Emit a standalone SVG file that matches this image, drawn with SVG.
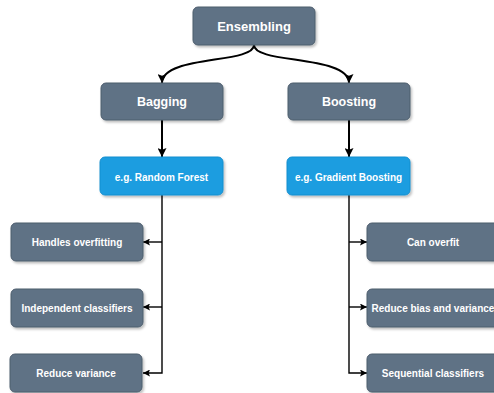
<svg xmlns="http://www.w3.org/2000/svg" width="494" height="393" viewBox="0 0 494 393">
<defs>
<marker id="arr" viewBox="0 0 10 10" refX="10" refY="5" markerWidth="7" markerHeight="7" markerUnits="userSpaceOnUse" orient="auto">
<path d="M0,0 L10,5 L0,10 L2,5 z" fill="#000"/>
</marker>
<marker id="arr2" viewBox="0 0 10 10" refX="10" refY="5" markerWidth="9" markerHeight="9" markerUnits="userSpaceOnUse" orient="auto">
<path d="M0,0 L10,5 L0,10 L2,5 z" fill="#000"/>
</marker>
<filter id="sh" x="-10%" y="-10%" width="130%" height="140%">
<feDropShadow dx="1.5" dy="2" stdDeviation="1.2" flood-color="#000" flood-opacity="0.25"/>
</filter>
<style>
.g{fill:#5f7285;stroke:#4d5d6d;stroke-width:1;filter:url(#sh)}
.b{fill:#1d9de0;stroke:#168fcf;stroke-width:1;filter:url(#sh)}
text{font-family:"Liberation Sans",Arial,sans-serif;font-weight:bold;fill:#fff;text-anchor:middle;dominant-baseline:central}
.t1{font-size:13px}
.t2{font-size:12.5px}
.t3{font-size:10px}
.c{fill:none;stroke:#000;stroke-width:1.4}
.c2{fill:none;stroke:#000;stroke-width:2}
</style>
</defs>
<rect width="494" height="393" fill="#fff"/>
<g id="connectors">
<path class="c2" d="M254,45 C254,64 162,55 162,83" marker-end="url(#arr2)"/>
<path class="c2" d="M254,45 C254,64 349,55 349,83" marker-end="url(#arr2)"/>
<path class="c2" d="M162,120 L162,157" marker-end="url(#arr2)"/>
<path class="c2" d="M349,120 L349,157" marker-end="url(#arr2)"/>
<path class="c" d="M162,195 L162,373 L143,373" marker-end="url(#arr)"/>
<path class="c" d="M162,242 L143,242" marker-end="url(#arr)"/>
<path class="c" d="M162,307 L143,307" marker-end="url(#arr)"/>
<path class="c" d="M349,195 L349,373 L367,373" marker-end="url(#arr)"/>
<path class="c" d="M349,242 L367,242" marker-end="url(#arr)"/>
<path class="c" d="M349,307 L367,307" marker-end="url(#arr)"/>
</g>
<g id="ensembling"><rect class="g" x="193" y="7" width="122" height="38" rx="5"/><text class="t1" x="254" y="26">Ensembling</text></g>
<g id="bagging"><rect class="g" x="101" y="83" width="122" height="37" rx="5"/><text class="t2" x="162" y="101.5">Bagging</text></g>
<g id="boosting"><rect class="g" x="288" y="83" width="122" height="37" rx="5"/><text class="t2" x="349" y="101.5">Boosting</text></g>
<g id="random-forest"><rect class="b" x="100" y="157" width="123" height="38" rx="5"/><text class="t3" x="161.5" y="177">e.g. Random Forest</text></g>
<g id="gradient-boosting"><rect class="b" x="287" y="157" width="123" height="38" rx="5"/><text class="t3" x="348.5" y="177">e.g. Gradient Boosting</text></g>
<g id="handles-overfitting"><rect class="g" x="11" y="223" width="132" height="38" rx="5"/><text class="t3" x="77" y="242">Handles overfitting</text></g>
<g id="independent-classifiers"><rect class="g" x="11" y="289" width="132" height="38" rx="5"/><text class="t3" x="77" y="308">Independent classifiers</text></g>
<g id="reduce-variance"><rect class="g" x="10" y="354" width="132" height="38" rx="5"/><text class="t3" x="76" y="373">Reduce variance</text></g>
<g id="can-overfit"><rect class="g" x="367" y="223" width="132" height="38" rx="5"/><text class="t3" x="433" y="242">Can overfit</text></g>
<g id="reduce-bias"><rect class="g" x="367" y="289" width="132" height="38" rx="5"/><text class="t3" x="433" y="308">Reduce bias and variance</text></g>
<g id="sequential-classifiers"><rect class="g" x="367" y="354" width="132" height="38" rx="5"/><text class="t3" x="433" y="373">Sequential classifiers</text></g>
</svg>
